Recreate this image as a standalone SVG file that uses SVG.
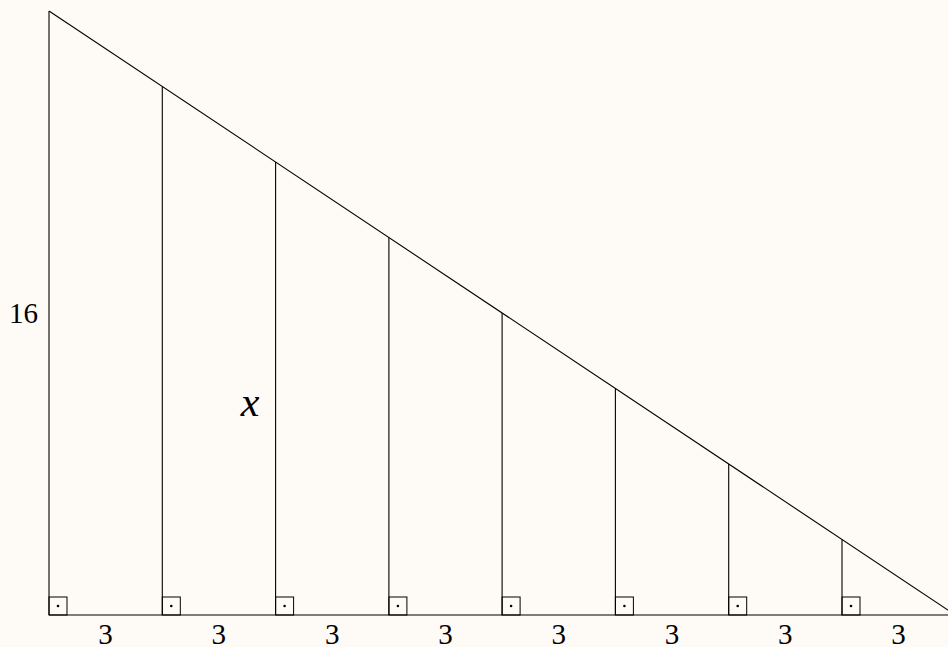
<svg xmlns="http://www.w3.org/2000/svg" width="948" height="647" viewBox="0 0 948 647">
<style>
.ln{stroke:#000;stroke-width:1.1;fill:none}
.sq{stroke:#000;stroke-width:1;fill:none}
</style>
<defs>
<g id="ra"><rect class="sq" x="0" y="-18" width="18" height="18"/><circle cx="9" cy="-9" r="1.3" fill="#000"/></g>
</defs>
<rect width="948" height="647" fill="#fefaf5"/>
<g id="connectors">
<line class="ln" x1="49" y1="11" x2="49" y2="615"/>
<line class="ln" x1="49" y1="615" x2="956" y2="615"/>
<line class="ln" x1="49" y1="11" x2="955.3" y2="615"/>
<line class="ln" x1="162.3" y1="86.5" x2="162.3" y2="615"/>
<line class="ln" x1="275.6" y1="162" x2="275.6" y2="615"/>
<line class="ln" x1="388.9" y1="237.5" x2="388.9" y2="615"/>
<line class="ln" x1="502.1" y1="313" x2="502.1" y2="615"/>
<line class="ln" x1="615.4" y1="388.5" x2="615.4" y2="615"/>
<line class="ln" x1="728.7" y1="464" x2="728.7" y2="615"/>
<line class="ln" x1="842" y1="539.5" x2="842" y2="615"/>
</g>
<g id="right-angles">
<use href="#ra" x="49" y="615"/>
<use href="#ra" x="162.3" y="615"/>
<use href="#ra" x="275.6" y="615"/>
<use href="#ra" x="388.9" y="615"/>
<use href="#ra" x="502.1" y="615"/>
<use href="#ra" x="615.4" y="615"/>
<use href="#ra" x="728.7" y="615"/>
<use href="#ra" x="842" y="615"/>
</g>
<g id="labels">
<text x="9" y="323" font-family="Times New Roman" style="font-family:'Times New Roman','Liberation Serif',serif" font-size="29">16</text>
<text x="240.7" y="416" font-family="Times New Roman" style="font-family:'Times New Roman','Liberation Serif',serif;font-style:italic" font-size="42">x</text>
<text x="98.3" y="644" font-family="Times New Roman" style="font-family:'Times New Roman','Liberation Serif',serif" font-size="29">3</text>
<text x="211.6" y="644" font-family="Times New Roman" style="font-family:'Times New Roman','Liberation Serif',serif" font-size="29">3</text>
<text x="325" y="644" font-family="Times New Roman" style="font-family:'Times New Roman','Liberation Serif',serif" font-size="29">3</text>
<text x="438.2" y="644" font-family="Times New Roman" style="font-family:'Times New Roman','Liberation Serif',serif" font-size="29">3</text>
<text x="551.5" y="644" font-family="Times New Roman" style="font-family:'Times New Roman','Liberation Serif',serif" font-size="29">3</text>
<text x="664.8" y="644" font-family="Times New Roman" style="font-family:'Times New Roman','Liberation Serif',serif" font-size="29">3</text>
<text x="778" y="644" font-family="Times New Roman" style="font-family:'Times New Roman','Liberation Serif',serif" font-size="29">3</text>
<text x="891.3" y="644" font-family="Times New Roman" style="font-family:'Times New Roman','Liberation Serif',serif" font-size="29">3</text>
</g>
</svg>
